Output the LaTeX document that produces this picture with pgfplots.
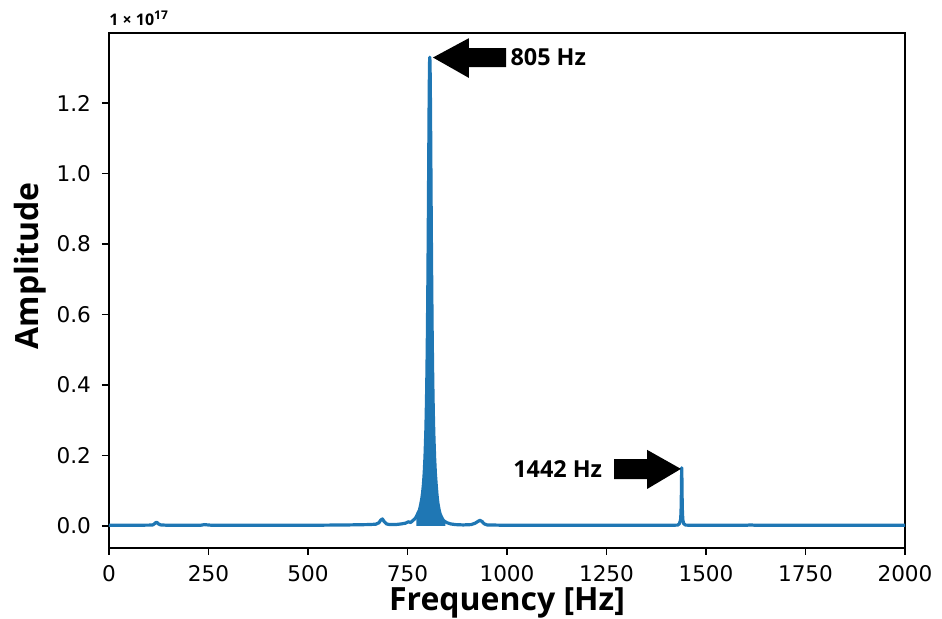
\documentclass[border=0pt]{standalone}
\usepackage{pgfplots}
\pgfplotsset{compat=1.18}
\usepackage{pgfplotstable}
\usepackage{fontspec}
\setmainfont{DejaVu Sans}
\newfontfamily\lblfont{Open Sans}
\definecolor{mplblue}{HTML}{1F77B4}
\pgfplotstableread{
x y
0 0.002
50 0.002
100 0.0025
110 0.003
115 0.007
118 0.010
121 0.010
124 0.006
130 0.003
150 0.002
230 0.002
240 0.004
248 0.003
260 0.002
400 0.002
500 0.002
600 0.003
650 0.004
670 0.005
678 0.009
683 0.017
687 0.020
691 0.013
697 0.006
705 0.004
720 0.004
735 0.006
745 0.008
752 0.012
758 0.010
763 0.015
768 0.020
772 0.026
776 0.036
780 0.045
783 0.060
786 0.078
788 0.095
790 0.118
792 0.150
794 0.197
796 0.266
797 0.314
798 0.374
799 0.449
800 0.545
801 0.665
801.5 0.735
802 0.811
802.5 0.893
803 0.978
803.5 1.064
804 1.147
804.5 1.220
805 1.279
805.5 1.317
806 1.330
806.5 1.317
807 1.279
807.5 1.220
808 1.147
808.5 1.064
809 0.978
809.5 0.893
810 0.811
810.5 0.735
811 0.665
812 0.545
813 0.449
814 0.374
815 0.314
816 0.266
818 0.197
820 0.150
822 0.118
824 0.090
826 0.068
829 0.048
832 0.034
836 0.024
840 0.016
845 0.012
850 0.009
858 0.006
870 0.004
890 0.003
910 0.004
920 0.008
927 0.013
932 0.016
937 0.013
943 0.006
950 0.003
1000 0.002
1200 0.002
1400 0.002
1429 0.0025
1433 0.0063
1436 0.0165
1437 0.033
1437.5 0.051
1438 0.0825
1438.5 0.132
1439 0.165
1439.5 0.132
1440 0.0825
1440.5 0.051
1441 0.033
1442 0.0165
1444 0.0063
1449 0.0025
1470 0.002
1600 0.002
1612 0.003
1625 0.002
2000 0.002
}\spectrum
\begin{document}
\begin{tikzpicture}
\useasboundingbox (-54.5pt,-35.5pt) rectangle (416.5pt,274pt);
\begin{axis}[
  at={(0,0)}, anchor=south west,
  scale only axis, width=398pt, height=257.5pt,
  xmin=0, xmax=2000, ymin=-0.0624, ymax=1.3986,
  xtick={0,250,...,2000},
  ytick={0,0.2,...,1.2},
  xticklabel style={/pgf/number format/1000 sep={}, /pgf/number format/fixed, /pgf/number format/precision=0, yshift=-1.5pt},
  yticklabel style={/pgf/number format/fixed, /pgf/number format/fixed zerofill, /pgf/number format/precision=1, xshift=-2pt},
  /pgf/number format/assume math mode=true,
  tick label style={font=\fontsize{10.8}{12}\selectfont},
  tick align=outside, major tick length=3.5pt,
  tick style={black, line width=0.8pt},
  xtick pos=bottom, ytick pos=left,
  axis line style={line width=0.9pt},
  scaled y ticks=false,
  xlabel={\lblfont\bfseries Frequency [Hz]},
  ylabel={\lblfont\bfseries Amplitude},
  xlabel style={at={(axis description cs:0.5,0)}, anchor=base, yshift=-31.5pt, font=\fontsize{16}{18}\selectfont},
  ylabel style={at={(axis description cs:-0.099,0.548)}, anchor=center, rotate=0, font=\fontsize{16}{18}\selectfont},
  clip=true,
]
\addplot[draw=none, fill=mplblue, restrict x to domain=770:845] table {\spectrum} \closedcycle;
\addplot[mplblue, line width=1.6pt, line join=round] table {\spectrum};
\fill[black] (axis cs:814,1.329) -- (axis cs:904.5,1.384) -- (axis cs:904.5,1.356) -- (axis cs:997.5,1.356) -- (axis cs:997.5,1.302) -- (axis cs:904.5,1.302) -- (axis cs:904.5,1.271) -- cycle;
\node[anchor=west, inner sep=0pt, font=\lblfont\bfseries\fontsize{11.7}{13}\selectfont] at (axis cs:1008,1.329) {805 Hz};
\fill[black] (axis cs:1437,0.162) -- (axis cs:1352,0.216) -- (axis cs:1352,0.190) -- (axis cs:1269,0.190) -- (axis cs:1269,0.133) -- (axis cs:1352,0.133) -- (axis cs:1352,0.105) -- cycle;
\node[anchor=east, inner sep=0pt, font=\lblfont\bfseries\fontsize{11.7}{13}\selectfont] at (axis cs:1240,0.162) {1442 Hz};
\end{axis}
\node[anchor=south west, inner sep=0pt, font=\lblfont\bfseries\fontsize{8}{9}\selectfont] at (0pt,261pt) {1 × 10\textsuperscript{17}};
\end{tikzpicture}
\end{document}
